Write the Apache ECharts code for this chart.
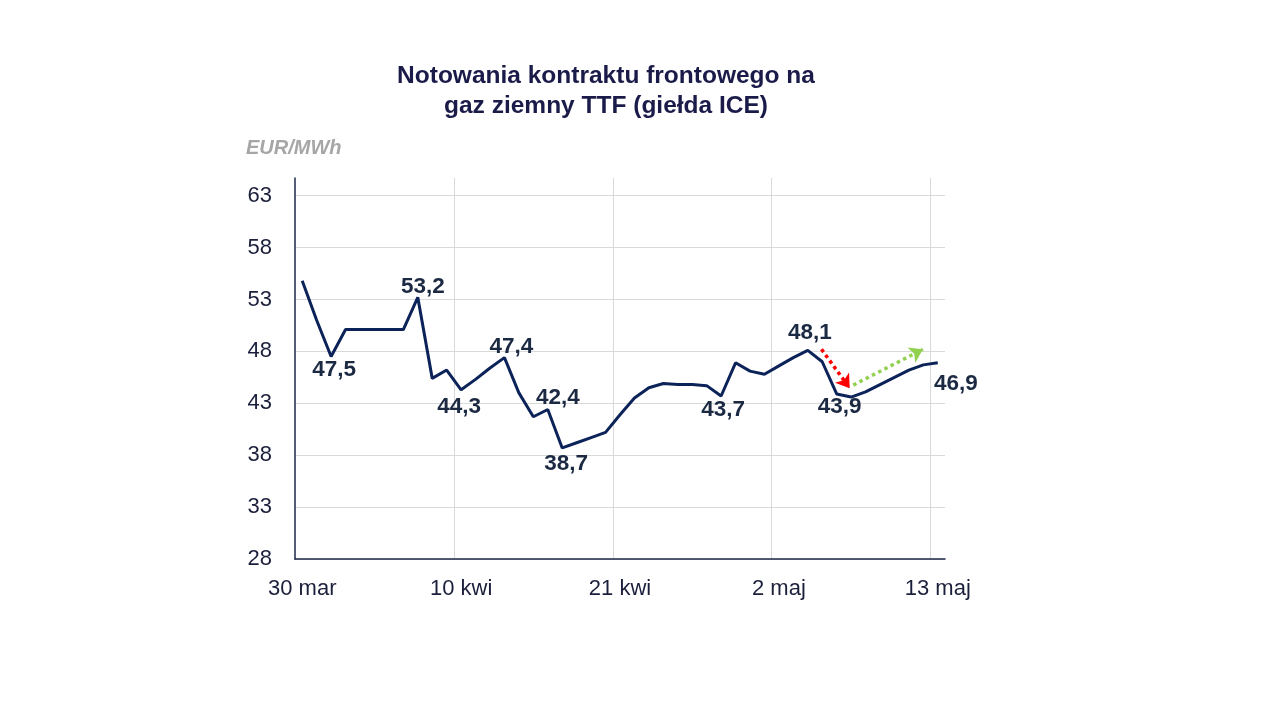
<!DOCTYPE html>
<html>
<head>
<meta charset="utf-8">
<title>Notowania TTF</title>
<script src="https://cdn.jsdelivr.net/npm/echarts@6/dist/echarts.min.js"></script>
<style>
  html, body { margin: 0; padding: 0; background: #fff; }
  #chart { width: 1280px; height: 720px; }
</style>
</head>
<body>
<div id="chart"></div>
<script>
// dni (kategorie osi X)
var dni = ['30 mar', '31 mar', '1 kwi', '2 kwi', '3 kwi', '4 kwi', '5 kwi', '6 kwi', '7 kwi', '8 kwi',
  '9 kwi', '10 kwi', '11 kwi', '12 kwi', '13 kwi', '14 kwi', '15 kwi', '16 kwi', '17 kwi', '18 kwi',
  '19 kwi', '20 kwi', '21 kwi', '22 kwi', '23 kwi', '24 kwi', '25 kwi', '26 kwi', '27 kwi', '28 kwi',
  '29 kwi', '30 kwi', '1 maj', '2 maj', '3 maj', '4 maj', '5 maj', '6 maj', '7 maj', '8 maj',
  '9 maj', '10 maj', '11 maj', '12 maj', '13 maj'];

// notowania EUR/MWh
var ceny = [54.8, 51.0, 47.5, 50.1, 50.1, 50.1, 50.1, 50.1, 53.2, 45.4,
  46.2, 44.3, 45.3, 46.4, 47.4, 44.0, 41.7, 42.4, 38.7, 39.2,
  39.7, 40.2, 41.9, 43.5, 44.5, 44.9, 44.8, 44.8, 44.7, 43.7,
  46.9, 46.1, 45.8, 46.6, 47.4, 48.1, 47.0, 43.9, 43.6, 44.1,
  44.8, 45.5, 46.2, 46.7, 46.9];

// ktore punkty maja etykiete
var etykiety = [2, 8, 11, 14, 17, 18, 29, 35, 37, 44];

// strzalki (indeks dnia, wartosc)
var strzalkaSpadek = [[35.95, 48.2], [37.9, 44.45]];
var strzalkaWzrost = [[38.15, 44.75], [42.97, 48.2]];

var osY = { min: 28, max: 64.7, interval: 5 };

// przesuniecia etykiet wzgledem punktu
var przesuniecia = {
  2: [3, 13], 8: [5, -11], 11: [-2, 17], 14: [7, -11], 17: [10, -12],
  18: [4, 16], 29: [2, 14], 35: [2, -18], 37: [3, 13], 44: [18, 21]
};

var fontName = '"Liberation Sans", Arial, sans-serif';

var seriesData = ceny.map(function (v, i) {
  if (etykiety.indexOf(i) < 0) return v;
  return {
    value: v,
    label: {
      show: true,
      position: 'inside',
      offset: przesuniecia[i],
      formatter: function (p) { return String(p.value).replace('.', ','); }
    }
  };
});

var chart = echarts.init(document.getElementById('chart'));
var option = {
  animation: false,
  backgroundColor: '#ffffff',
  title: {
    text: 'Notowania kontraktu frontowego na\ngaz ziemny TTF (giełda ICE)',
    left: 601,
    top: 56,
    textAlign: 'center',
    textStyle: {
      fontFamily: fontName,
      fontSize: 24.5,
      fontWeight: 'bold',
      color: '#1b1b4a',
      lineHeight: 30
    }
  },
  graphic: [{
    type: 'text',
    left: 246,
    top: 138,
    style: {
      text: 'EUR/MWh',
      font: 'italic bold 20px ' + fontName,
      fill: '#a6a6a6'
    }
  }],
  grid: { left: 295, right: 335, top: 178, bottom: 161, containLabel: false },
  xAxis: [{
    type: 'category',
    data: dni,
    boundaryGap: true,
    axisLine: { onZero: false, lineStyle: { color: '#1b2a4a', width: 1.5 } },
    axisTick: { show: false },
    axisLabel: {
      interval: 10,
      margin: 19,
      color: '#1b1f3b',
      fontSize: 22,
      fontFamily: fontName
    },
    splitLine: { show: false }
  }, {
    type: 'value',
    min: -0.5,
    max: 44.5,
    interval: 11,
    position: 'top',
    axisLine: { show: false },
    axisTick: { show: false },
    axisLabel: { show: false },
    splitLine: {
      show: true,
      showMinLine: false,
      showMaxLine: false,
      lineStyle: { color: '#d9d9d9', width: 1 }
    }
  }],
  yAxis: {
    type: 'value',
    min: osY.min,
    max: osY.max,
    interval: osY.interval,
    axisLine: { show: true, onZero: false, lineStyle: { color: '#1b2a4a', width: 1.5 } },
    axisTick: { show: false },
    axisLabel: {
      showMaxLabel: false,
      margin: 23,
      color: '#1b1f3b',
      fontSize: 22,
      fontFamily: fontName
    },
    splitLine: {
      show: true,
      showMaxLine: false,
      lineStyle: { color: '#d9d9d9', width: 1 }
    }
  },
  series: [{
    name: 'TTF',
    type: 'line',
    data: seriesData,
    symbol: 'circle',
    symbolSize: 1,
    showSymbol: true,
    showAllSymbol: true,
    itemStyle: { color: 'rgba(0,0,0,0)' },
    lineStyle: { color: '#0c2359', width: 3 },
    label: {
      show: false,
      color: '#1b2a42',
      fontSize: 22.5,
      fontWeight: 'bold',
      fontFamily: fontName
    },
    emphasis: { disabled: true },
    z: 3
  }, {
    type: 'line',
    xAxisIndex: 1,
    data: [],
    markLine: {
      silent: true,
      symbol: ['none', 'arrow'],
      symbolSize: 13,
      label: { show: false },
      lineStyle: { color: '#ff0000', type: 'dotted', width: 3.5 },
      data: [[{ coord: strzalkaSpadek[0] }, { coord: strzalkaSpadek[1] }]]
    }
  }, {
    type: 'line',
    xAxisIndex: 1,
    data: [],
    markLine: {
      silent: true,
      symbol: ['none', 'arrow'],
      symbolSize: 13,
      label: { show: false },
      lineStyle: { color: '#92d050', type: 'dotted', width: 3.5 },
      data: [[{ coord: strzalkaWzrost[0] }, { coord: strzalkaWzrost[1] }]]
    }
  }]
};
chart.setOption(option);
</script>
</body>
</html>
